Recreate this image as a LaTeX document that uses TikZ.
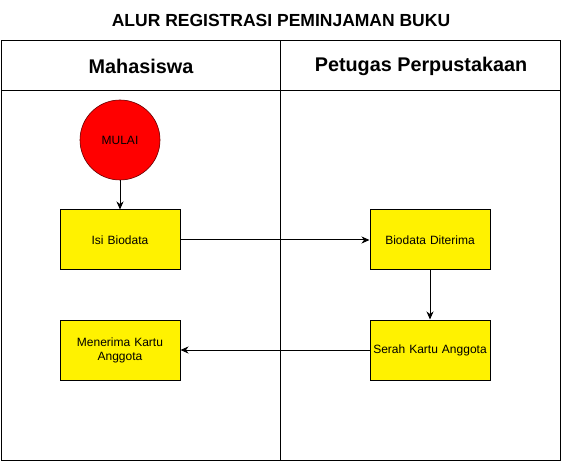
\documentclass[tikz,border=0pt]{standalone}
\usepackage{fontspec}
\setmainfont{Liberation Sans}
\usetikzlibrary{arrows.meta}
\tikzset{
  lane/.style={draw=black, line width=1pt},
  procbox/.style={draw=black, line width=1pt, fill=yellow, minimum width=120pt, minimum height=60pt, inner sep=0pt, align=center, font=\fontsize{12pt}{14pt}\selectfont, text width=118pt},
  startnode/.style={circle, draw=black!60!red, line width=0.6pt, fill=red, minimum size=80pt, inner sep=0pt, font=\fontsize{12pt}{14pt}\selectfont},
  flow/.style={draw=black, line width=1pt, -{Stealth[length=8pt,width=7pt,inset=2.5pt]}},
  hdr/.style={font=\bfseries\fontsize{19.8pt}{24pt}\selectfont},
}
\begin{document}
\begin{tikzpicture}[x=1pt,y=-1pt]
\useasboundingbox (0,0) rectangle (562,462);
\node[font=\bfseries\fontsize{17.5pt}{21pt}\selectfont] (title) at (281,20) {ALUR REGISTRASI PEMINJAMAN BUKU};
\draw[lane] (1,40.5) rectangle (560.5,460.5);
\draw[lane] (1,90.5) -- (560.5,90.5);
\draw[lane] (280.7,40.5) -- (280.7,460.5);
\node[hdr] (h1) at (141,66) {Mahasiswa};
\node[hdr] (h2) at (421,66) {Petugas Perpustakaan};
\node[startnode] (mulai) at (120,140) {MULAI};
\node[procbox] (isi) at (120,240) {Isi Biodata};
\node[procbox] (terima) at (430,240) {Biodata Diterima};
\node[procbox] (serah) at (430,350) {Serah Kartu Anggota};
\node[procbox] (menerima) at (120,350) {Menerima Kartu\\Anggota};
\draw[flow] (mulai) -- (isi);
\draw[flow] (isi) -- (terima);
\draw[flow] (terima) -- (serah);
\draw[flow] (serah) -- (menerima);
\end{tikzpicture}
\end{document}
